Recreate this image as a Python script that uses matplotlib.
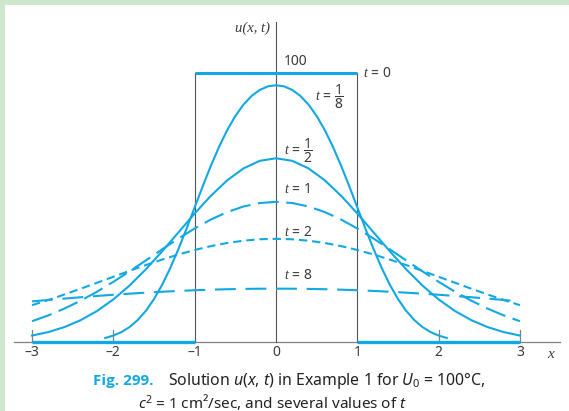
import matplotlib
matplotlib.use("Agg")
import matplotlib.pyplot as plt
from matplotlib.patches import Rectangle
import numpy as np

plt.rcParams['mathtext.fontset'] = 'custom'
plt.rcParams['mathtext.rm'] = 'Noto Sans'
plt.rcParams['mathtext.it'] = 'Liberation Serif:italic'
plt.rcParams['mathtext.sf'] = 'Noto Sans:italic'
plt.rcParams['lines.scale_dashes'] = False

# temperature u(x, t) at the sample points
x_fine = np.linspace(-2.1, 2.1, 43)      # t = 1/8, step 0.1
x_coarse = np.linspace(-3.0, 3.0, 31)    # other times, step 0.2

u_t18 = [1.39, 2.28, 3.59, 5.48, 8.08, 11.51, 15.87, 21.19, 27.43, 34.46, 42.07,
         50.00, 57.92, 65.53, 72.54, 78.75, 84.00, 88.24, 91.46, 93.70, 95.02,
         95.44,
         95.02, 93.70, 91.46, 88.24, 84.00, 78.75, 72.54, 65.53, 57.92, 50.00,
         42.07, 34.46, 27.43, 21.19, 15.87, 11.51, 8.08, 5.48, 3.59, 2.28, 1.39]
u_t12 = [2.28, 3.58, 5.46, 8.04, 11.44, 15.73, 20.93, 26.96, 33.64, 40.68, 47.72,
         54.33, 60.06, 64.50, 67.31, 68.27, 67.31, 64.50, 60.06, 54.33, 47.72,
         40.68, 33.64, 26.96, 20.93, 15.73, 11.44, 8.04, 5.46, 3.58, 2.28]
u_t1 = [7.63, 9.79, 12.35, 15.30, 18.62, 22.28, 26.20, 30.27, 34.38, 38.39, 42.14,
        45.47, 48.24, 50.32, 51.61, 52.05, 51.61, 50.32, 48.24, 45.47, 42.14,
        38.39, 34.38, 30.27, 26.20, 22.28, 18.62, 15.30, 12.35, 9.79, 7.63]
u_t2 = [13.59, 15.53, 17.59, 19.74, 21.95, 24.17, 26.38, 28.53, 30.57, 32.45, 34.13,
        35.58, 36.74, 37.59, 38.12, 38.29, 38.12, 37.59, 36.74, 35.58, 34.13,
        32.45, 30.57, 28.53, 26.38, 24.17, 21.95, 19.74, 17.59, 15.53, 13.59]
u_t8 = [14.99, 15.53, 16.05, 16.55, 17.03, 17.47, 17.88, 18.25, 18.59, 18.89, 19.15,
        19.36, 19.53, 19.65, 19.72, 19.74, 19.72, 19.65, 19.53, 19.36, 19.15,
        18.89, 18.59, 18.25, 17.88, 17.47, 17.03, 16.55, 16.05, 15.53, 14.99]

U0 = 100
tick_vals = [-3, -2, -1, 0, 1, 2, 3]
tick_text = ['\u20133', '\u20132', '\u20131', '0', '1', '2', '3']

blue = '#12a8e3'
ink = '#3a3a3a'

fig = plt.figure(figsize=(5.69, 4.11), dpi=100)
fig.patch.set_facecolor('#cde6cc')
fig.patches.append(Rectangle((5 / 569, 0), 1, 406 / 411, transform=fig.transFigure,
                             facecolor='white', edgecolor='none', zorder=-5))

ax = fig.add_axes([0, 0, 1, 1])
ax.set_facecolor('none')
ax.axis('off')
ax.set_xlim(-3.394, 3.603)
ax.set_ylim(-25.79, 127.17)

# axes
ax.plot([-3.22, 3.49], [0, 0], color='#808080', lw=0.9, zorder=1)
ax.plot([0, 0], [0, 119], color='#555555', lw=0.8, zorder=1)
for xv in [-1, 1]:
    ax.plot([xv, xv], [0, U0], color='#555555', lw=0.8, zorder=1)
for xv in [-3, -2, 2, 3]:
    ax.plot([xv, xv], [0, 4.2], color='#808080', lw=0.9, zorder=1)

# initial temperature t = 0
ax.plot([-1, 1], [U0, U0], color=blue, lw=2.2, solid_capstyle='butt', zorder=3)
ax.plot([-3, -1], [0, 0], color=blue, lw=2.4, solid_capstyle='butt', zorder=3)
ax.plot([1, 3], [0, 0], color=blue, lw=2.4, solid_capstyle='butt', zorder=3)

# solutions at later times
ax.plot(x_fine, u_t18, color=blue, lw=1.5, zorder=3)
ax.plot(x_coarse, u_t12, color=blue, lw=1.5, zorder=3)
ax.plot(x_coarse, u_t1, color=blue, lw=1.5, dashes=(15, 5.5), zorder=3)
ax.plot(x_coarse, u_t2, color=blue, lw=1.5, dashes=(6, 3.5), zorder=3)
ax.plot(x_coarse, u_t8, color=blue, lw=1.5, dashes=(15, 7), zorder=3)

# labels
for xv, s in zip(tick_vals, tick_text):
    ax.text(xv, -4.2, s, ha='center', va='center', fontsize=10,
            family='Noto Sans', color=ink)
ax.text(3.38, -4.6, 'x', ha='center', va='center', fontsize=11,
        family='Liberation Serif', style='italic', color=ink)
ax.text(-0.07, 116.7, 'u(x, t)', ha='right', va='center', fontsize=10.5,
        family='Liberation Serif', style='italic', color=ink)
ax.text(0.10, 104.2, '100', ha='left', va='center', fontsize=10,
        family='Noto Sans', color=ink)

lab = dict(ha='left', va='center', fontsize=10, family='Noto Sans', color=ink)
ax.text(1.07, 100, r'$t$ = 0', **lab)
ax.text(0.48, 91.0, r'$t$ = $\dfrac{1}{8}$', **lab)
ax.text(0.10, 70.9, r'$t$ = $\dfrac{1}{2}$', **lab)
ax.text(0.10, 56.5, r'$t$ = 1', **lab)
ax.text(0.10, 40.5, r'$t$ = 2', **lab)
ax.text(0.10, 24.8, r'$t$ = 8', **lab)

# caption
fig.text(93 / 569, 1 - 381 / 411, 'Fig. 299.', ha='left', va='center',
         fontsize=11, family=['Open Sans', 'Lato', 'DejaVu Sans'], weight='bold',
         color=blue)
fig.text(168 / 569, 1 - 381 / 411,
         r'Solution $\mathsf{u}$($\mathsf{x}$, $\mathsf{t}$) in Example 1 for '
         r'$\mathsf{U}_{\mathrm{0}}$ = 100°C,',
         ha='left', va='center', fontsize=11.4, family='Noto Sans', color='#222222')
fig.text(138 / 569, 1 - 402 / 411,
         r'$\mathsf{c}^{\mathrm{2}}$ = 1 cm²/sec, and several values of $\mathsf{t}$',
         ha='left', va='center', fontsize=11, family='Noto Sans', color='#222222')

fig.savefig('out.png', dpi=100, facecolor=fig.get_facecolor())
